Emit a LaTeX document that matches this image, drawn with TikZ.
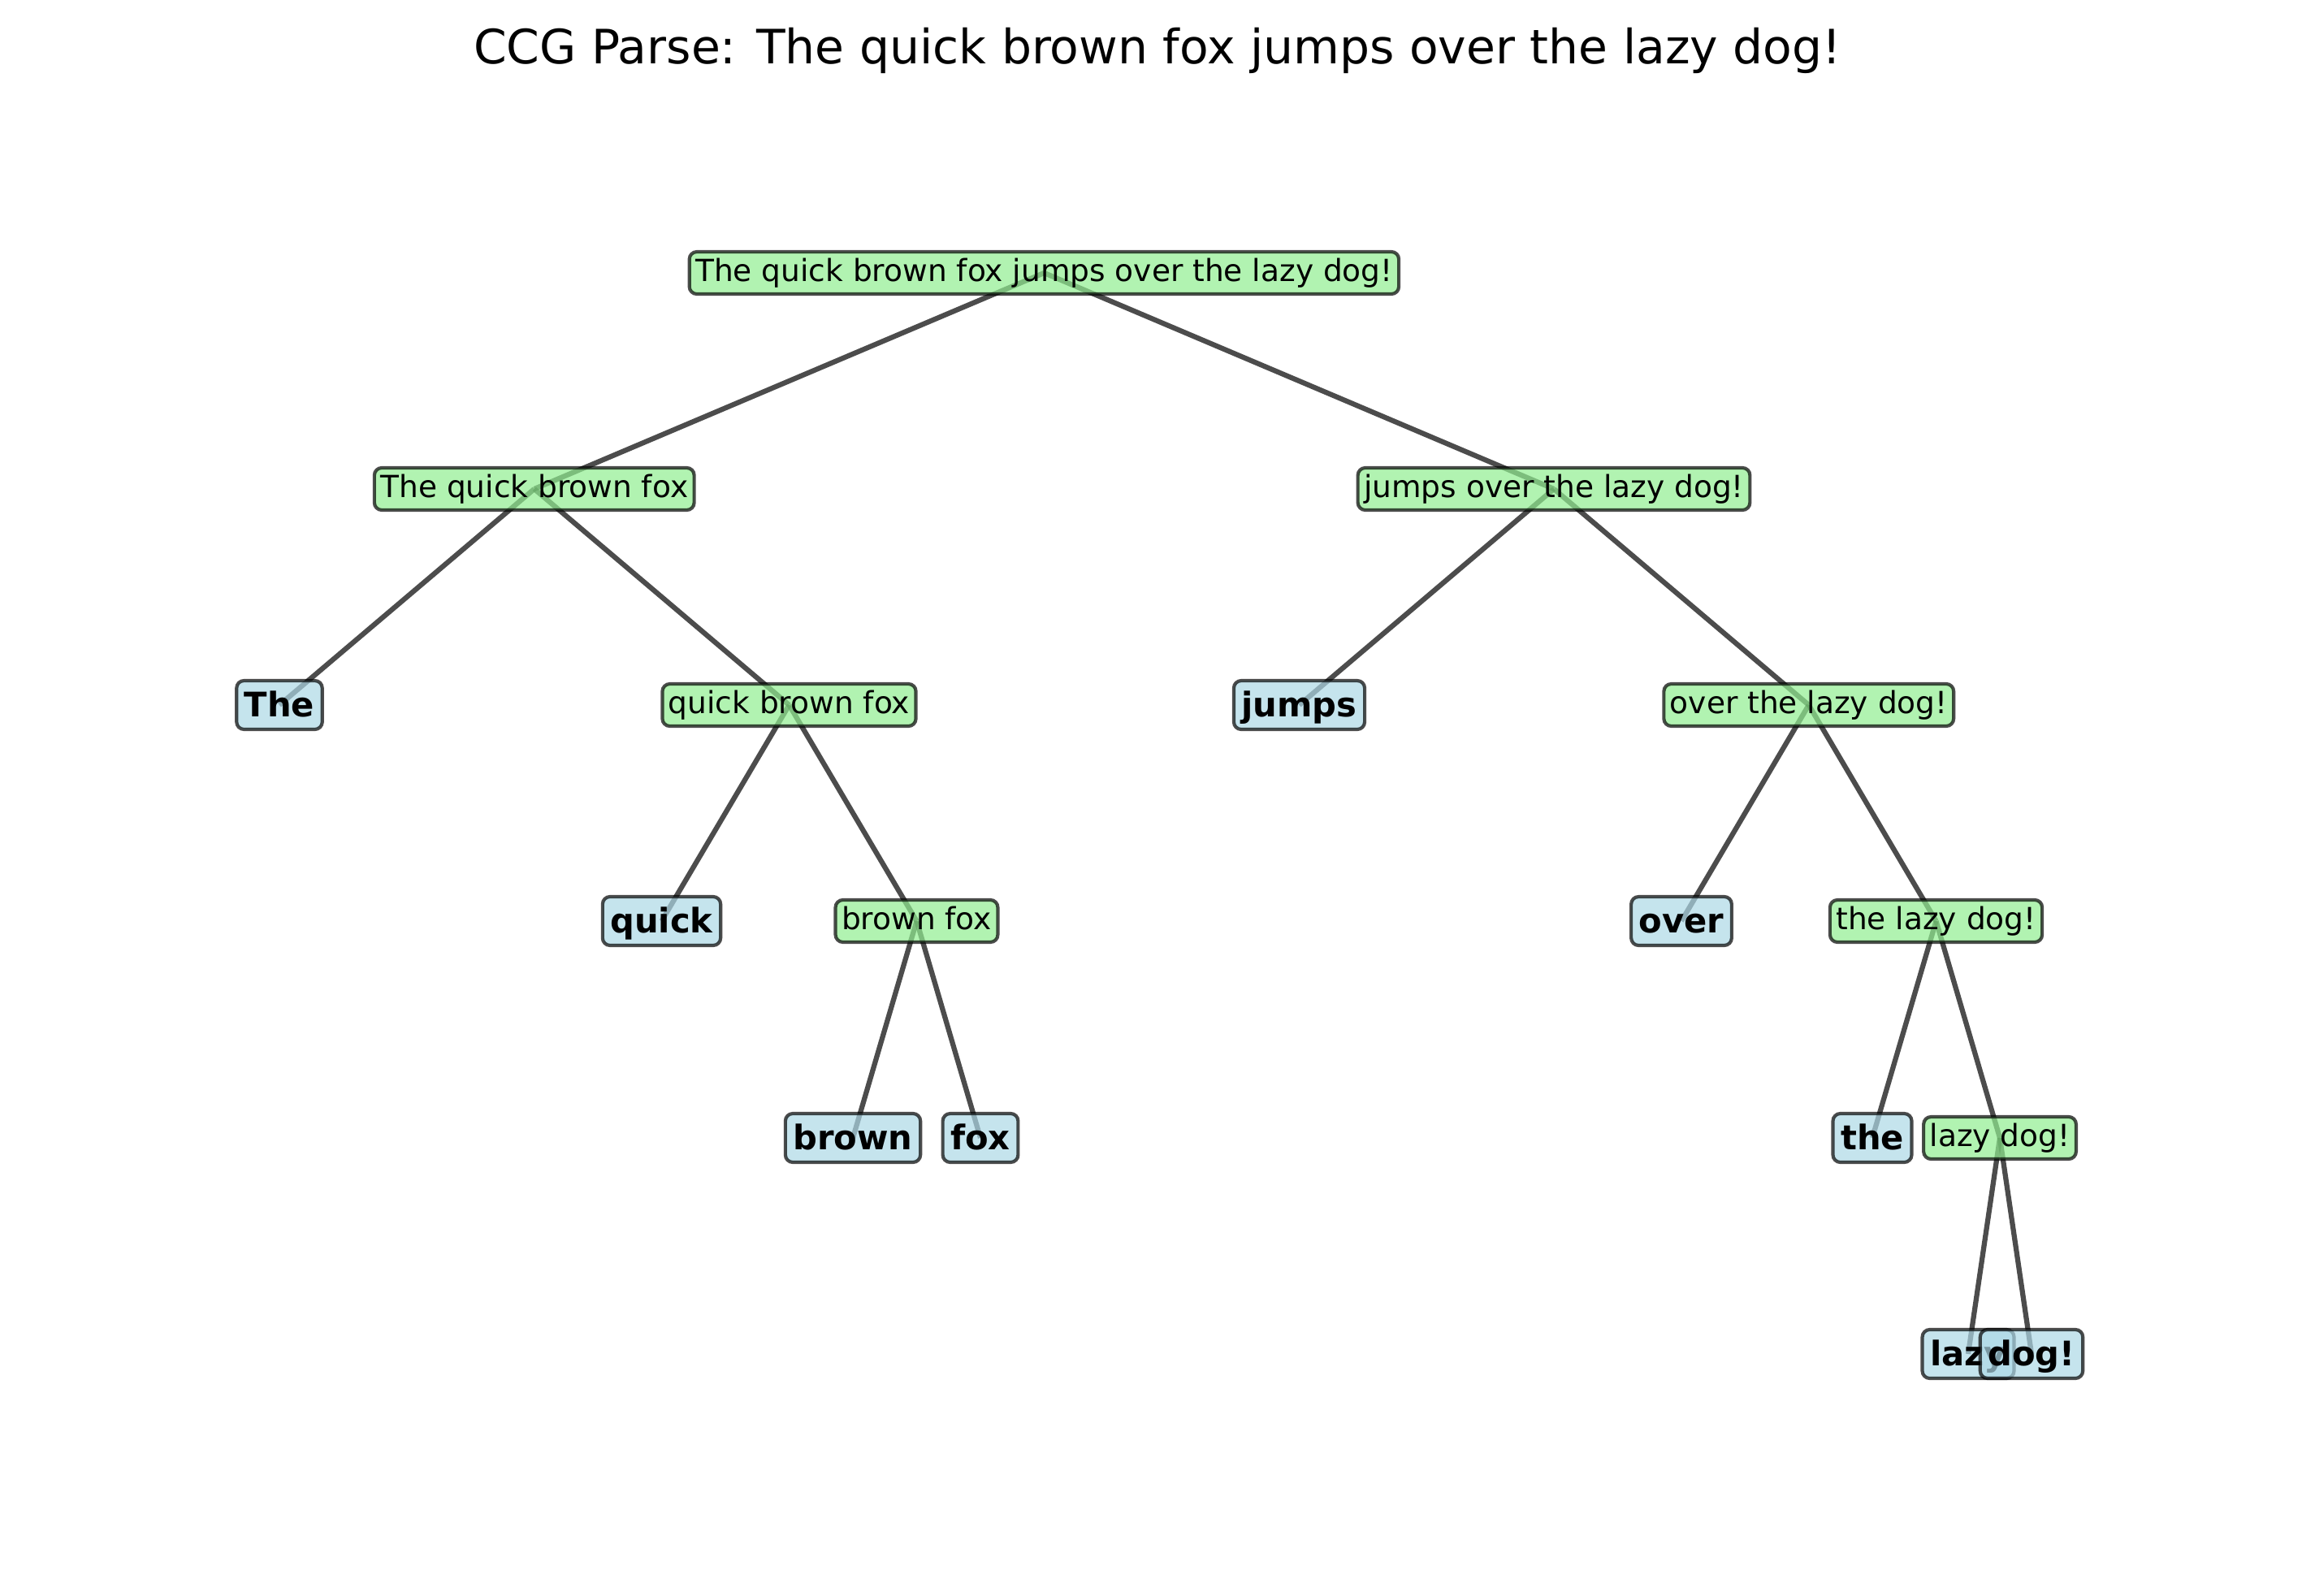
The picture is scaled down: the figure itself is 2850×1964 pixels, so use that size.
\documentclass[tikz,border=0pt]{standalone}
\usepackage{fontspec}
\setmainfont{DejaVu Sans}
\pgfdeclarelayer{bg}
\pgfsetlayers{bg,main}
\definecolor{lgreen}{HTML}{90EE90}
\definecolor{lblue}{HTML}{ADD8E6}
\tikzset{
  boxbase/.style={draw=black, draw opacity=0.7, fill opacity=0.7, text opacity=1,
    rounded corners=2.2pt, line width=1pt, inner ysep=1.5pt, text depth=2.34pt},
  phrase/.style={boxbase, fill=lgreen, inner xsep=1.8pt, text height=7.14pt,
    font=\fontsize{9}{11}\selectfont},
  word/.style={boxbase, fill=lblue, inner xsep=2.3pt, text height=9.06pt,
    font=\fontsize{10}{12}\selectfont\bfseries},
  edge/.style={draw=black, draw opacity=0.7, line width=1.5pt}
}
\begin{document}
\begin{tikzpicture}[x=0.24pt, y=-0.24pt]
\useasboundingbox (0,0) rectangle (2850,1964);
\node[anchor=base, font=\fontsize{14}{17}\selectfont] (title) at (1425,78) {CCG Parse: The quick brown fox jumps over the lazy dog!};
% level 0
\node[phrase] (root) at (1285.4,336) {The quick brown fox jumps over the lazy dog!};
% level 1
\node[phrase] (tqbf) at (657.75,602) {The quick brown fox};
\node[phrase] (jotld) at (1913,602) {jumps over the lazy dog!};
% level 2
\node[word] (The) at (344,868) {The};
\node[phrase] (qbf) at (971.5,868) {quick brown fox};
\node[word] (jumps) at (1599.5,868) {jumps};
\node[phrase] (otld) at (2226.75,868) {over the lazy dog!};
% level 3
\node[word] (quick) at (814.5,1134) {quick};
\node[phrase] (bf) at (1128.5,1134) {brown fox};
\node[word] (over) at (2070,1134) {over};
\node[phrase] (tld) at (2383.5,1134) {the lazy dog!};
% level 4
\node[word] (brown) at (1050,1401) {brown};
\node[word] (fox) at (1207,1401) {fox};
\node[word] (the) at (2305,1401) {the};
\node[phrase] (ld) at (2462,1401) {lazy dog!};
% level 5
\node[word] (lazy) at (2423,1667) {lazy};
\node[word] (dog) at (2501,1667) {dog!};
\begin{pgfonlayer}{bg}
\draw[edge] (root.center) -- (tqbf.center);
\draw[edge] (root.center) -- (jotld.center);
\draw[edge] (tqbf.center) -- (The.center);
\draw[edge] (tqbf.center) -- (qbf.center);
\draw[edge] (qbf.center) -- (quick.center);
\draw[edge] (qbf.center) -- (bf.center);
\draw[edge] (bf.center) -- (brown.center);
\draw[edge] (bf.center) -- (fox.center);
\draw[edge] (jotld.center) -- (jumps.center);
\draw[edge] (jotld.center) -- (otld.center);
\draw[edge] (otld.center) -- (over.center);
\draw[edge] (otld.center) -- (tld.center);
\draw[edge] (tld.center) -- (the.center);
\draw[edge] (tld.center) -- (ld.center);
\draw[edge] (ld.center) -- (lazy.center);
\draw[edge] (ld.center) -- (dog.center);
\end{pgfonlayer}
\end{tikzpicture}
\end{document}
